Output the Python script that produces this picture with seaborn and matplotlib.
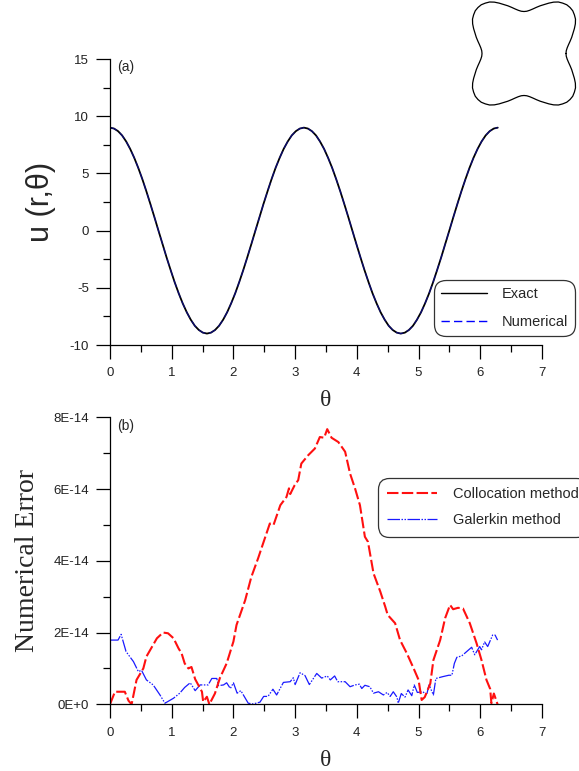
import numpy as np
import pandas as pd
import matplotlib
matplotlib.use("Agg")
import matplotlib.pyplot as plt
from matplotlib.lines import Line2D
from matplotlib.ticker import MultipleLocator, FixedLocator
import seaborn as sns

# ---------------- data ----------------
# panel (a): u(r, theta) along the boundary
theta_a = [0.000, 0.065, 0.131, 0.196, 0.262, 0.327, 0.393, 0.458, 0.524, 0.589,
           0.654, 0.720, 0.785, 0.851, 0.916, 0.982, 1.047, 1.113, 1.178, 1.244,
           1.309, 1.374, 1.440, 1.505, 1.571, 1.636, 1.702, 1.767, 1.833, 1.898,
           1.963, 2.029, 2.094, 2.160, 2.225, 2.291, 2.356, 2.422, 2.487, 2.553,
           2.618, 2.683, 2.749, 2.814, 2.880, 2.945, 3.011, 3.076, 3.142, 3.207,
           3.272, 3.338, 3.403, 3.469, 3.534, 3.600, 3.665, 3.731, 3.796, 3.862,
           3.927, 3.992, 4.058, 4.123, 4.189, 4.254, 4.320, 4.385, 4.451, 4.516,
           4.581, 4.647, 4.712, 4.778, 4.843, 4.909, 4.974, 5.040, 5.105, 5.171,
           5.236, 5.301, 5.367, 5.432, 5.498, 5.563, 5.629, 5.694, 5.760, 5.825,
           5.890, 5.956, 6.021, 6.087, 6.152, 6.218, 6.283]
u_exact = [9.00, 8.92, 8.69, 8.32, 7.79, 7.14, 6.36, 5.48, 4.50, 3.44,
           2.33, 1.17, 0.00, -1.17, -2.33, -3.44, -4.50, -5.48, -6.36, -7.14,
           -7.79, -8.32, -8.69, -8.92, -9.00, -8.92, -8.69, -8.32, -7.79, -7.14,
           -6.36, -5.48, -4.50, -3.44, -2.33, -1.17, 0.00, 1.17, 2.33, 3.44,
           4.50, 5.48, 6.36, 7.14, 7.79, 8.32, 8.69, 8.92, 9.00, 8.92,
           8.69, 8.32, 7.79, 7.14, 6.36, 5.48, 4.50, 3.44, 2.33, 1.17,
           0.00, -1.17, -2.33, -3.44, -4.50, -5.48, -6.36, -7.14, -7.79, -8.32,
           -8.69, -8.92, -9.00, -8.92, -8.69, -8.32, -7.79, -7.14, -6.36, -5.48,
           -4.50, -3.44, -2.33, -1.17, 0.00, 1.17, 2.33, 3.44, 4.50, 5.48,
           6.36, 7.14, 7.79, 8.32, 8.69, 8.92, 9.00]
u_numerical = list(u_exact)

# panel (b): numerical error (values in units of 1E-15)
theta_col = [0.00, 0.08, 0.24, 0.30, 0.35, 0.43, 0.54, 0.59, 0.68, 0.76,
             0.86, 0.94, 1.03, 1.11, 1.16, 1.21, 1.27, 1.32, 1.38, 1.49,
             1.51, 1.57, 1.61, 1.70, 1.78, 1.89, 2.00, 2.05, 2.19, 2.29,
             2.40, 2.48, 2.59, 2.65, 2.76, 2.86, 2.90, 2.92, 2.99, 3.05,
             3.10, 3.21, 3.32, 3.40, 3.47, 3.52, 3.59, 3.70, 3.81, 3.89,
             3.97, 4.05, 4.13, 4.18, 4.27, 4.38, 4.46, 4.50, 4.62, 4.70,
             4.81, 4.92, 5.00, 5.05, 5.10, 5.19, 5.24, 5.35, 5.43, 5.51,
             5.56, 5.64, 5.72, 5.83, 5.94, 6.02, 6.10, 6.16, 6.18, 6.22, 6.28]
err_col = [0.0, 3.5, 3.5, 1.0, 0.0, 6.8, 10.0, 13.3, 16.0, 18.4,
           20.0, 19.8, 18.4, 15.6, 14.2, 11.4, 10.0, 10.4, 7.0, 3.5,
           0.7, 2.1, 0.0, 3.0, 7.3, 11.4, 17.5, 22.1, 29.0, 35.5,
           40.7, 44.8, 50.4, 50.0, 55.5, 57.8, 60.2, 58.6, 61.0, 62.5,
           67.1, 69.4, 71.3, 74.5, 74.3, 76.7, 74.3, 73.1, 70.4, 64.3,
           60.2, 55.5, 46.7, 45.3, 36.5, 31.4, 27.2, 24.9, 22.6, 17.9,
           14.2, 10.0, 6.8, 1.2, 2.0, 5.8, 12.3, 17.9, 24.0, 27.7,
           26.5, 26.9, 26.7, 22.6, 17.0, 12.3, 6.8, 4.3, 0.3, 3.0, 0.0]
theta_gal = [0.00, 0.13, 0.18, 0.26, 0.38, 0.46, 0.51, 0.59, 0.70, 0.81,
             0.89, 1.03, 1.13, 1.21, 1.30, 1.38, 1.46, 1.59, 1.65, 1.73,
             1.76, 1.84, 1.89, 1.95, 2.00, 2.06, 2.12, 2.24, 2.32, 2.43,
             2.49, 2.56, 2.64, 2.70, 2.81, 2.92, 2.97, 3.00, 3.08, 3.16,
             3.23, 3.35, 3.43, 3.52, 3.57, 3.64, 3.69, 3.81, 3.89, 3.97,
             4.04, 4.08, 4.13, 4.21, 4.27, 4.35, 4.43, 4.49, 4.54, 4.59,
             4.65, 4.67, 4.72, 4.78, 4.83, 4.89, 4.93, 4.98, 5.07, 5.13,
             5.17, 5.24, 5.28, 5.39, 5.49, 5.54, 5.58, 5.62, 5.70, 5.78,
             5.86, 5.91, 5.99, 6.02, 6.07, 6.12, 6.20, 6.24, 6.28]
err_gal = [17.9, 17.9, 19.5, 14.7, 11.9, 9.1, 9.5, 6.8, 5.4, 2.6,
           0.3, 1.7, 3.1, 4.7, 6.0, 3.8, 5.4, 5.4, 7.2, 7.2,
           5.2, 5.4, 6.0, 4.4, 6.0, 3.1, 3.8, 0.3, 0.1, 0.6,
           2.2, 2.2, 4.2, 2.6, 6.1, 6.3, 7.4, 5.5, 8.8, 8.0,
           5.5, 8.6, 7.3, 7.9, 6.8, 7.9, 6.3, 6.3, 4.9, 5.4,
           5.6, 4.4, 5.3, 4.9, 3.1, 3.5, 2.6, 3.3, 2.2, 3.5,
           2.0, 0.3, 3.0, 2.0, 4.0, 2.4, 5.4, 3.3, 3.5, 2.6,
           5.4, 2.6, 7.2, 7.7, 8.1, 8.1, 11.4, 13.1, 13.5, 14.7,
           15.9, 13.8, 16.1, 15.2, 17.4, 16.1, 19.3, 19.3, 17.9]
err_scale = 1e-15

err_ticks = [0, 2e-14, 4e-14, 6e-14, 8e-14]
err_ticklabels = ["0E+0", "2E-14", "4E-14", "6E-14", "8E-14"]

# inset: boundary shape, relative radius every 3.75 degrees over one quadrant
shape_angle_deg = np.arange(0, 360.01, 3.75)
shape_r_quadrant = [0.80, 0.807, 0.83, 0.865, 0.91, 0.96, 1.01, 1.07, 1.13, 1.18,
                    1.21, 1.235, 1.24, 1.235, 1.21, 1.18, 1.13, 1.07, 1.01, 0.96,
                    0.91, 0.865, 0.83, 0.807]
shape_r = shape_r_quadrant * 4 + [shape_r_quadrant[0]]

# ---------------- styling ----------------
sns.set_style("ticks")
plt.rcParams["font.family"] = ["Liberation Sans", "DejaVu Sans"]
plt.rcParams["axes.linewidth"] = 0.9
plt.rcParams["axes.unicode_minus"] = False
SERIF = ["Liberation Serif", "DejaVu Serif"]

fig = plt.figure(figsize=(5.79, 7.71), dpi=100)
W, H = 579.0, 771.0


def style_axis(ax):
    for s in ("top", "right"):
        ax.spines[s].set_visible(False)
    for s in ("left", "bottom"):
        ax.spines[s].set_color("black")
        ax.spines[s].set_linewidth(0.9)
    ax.tick_params(which="major", direction="out", length=10, width=0.9,
                   colors="black", labelsize=9.5, labelcolor="#222222")
    ax.tick_params(which="minor", direction="out", length=5, width=0.9, colors="black")
    ax.tick_params(axis="x", which="major", pad=6)
    ax.tick_params(axis="y", which="major", pad=5)
    ax.set_xlim(0, 7)
    ax.xaxis.set_major_locator(MultipleLocator(1))
    ax.xaxis.set_minor_locator(MultipleLocator(0.5))


# ---------------- panel (a) ----------------
ax1 = fig.add_axes([110 / W, 1 - 345 / H, 432 / W, 286 / H])
df_a = pd.DataFrame({"theta": theta_a, "exact": u_exact, "numerical": u_numerical})
sns.lineplot(data=df_a, x="theta", y="exact", ax=ax1, color="black", lw=1.3,
             sort=False, estimator=None)
sns.lineplot(data=df_a, x="theta", y="numerical", ax=ax1, color="#1010c0", lw=0.9,
             alpha=0.6, sort=False, estimator=None)
ax1.lines[-1].set_linestyle((0, (6, 3)))
style_axis(ax1)
ax1.set_ylim(-10, 15)
ax1.yaxis.set_major_locator(MultipleLocator(5))
ax1.yaxis.set_minor_locator(MultipleLocator(2.5))
ax1.set_xlabel("θ", fontsize=17, family=SERIF, labelpad=8)
ax1.set_ylabel("u (r,θ)", fontsize=22, labelpad=10)
ax1.text(0.017, 0.995, "(a)", transform=ax1.transAxes, fontsize=10, va="top", ha="left")

h_a = [Line2D([], [], color="black", lw=1.0),
       Line2D([], [], color="blue", lw=1.0, ls=(0, (6, 3)))]
leg1 = ax1.legend(h_a, ["Exact", "Numerical"], loc="upper left",
                  bbox_to_anchor=(437 / W, 1 - 283 / H), bbox_transform=fig.transFigure,
                  fontsize=10.5, handlelength=3.2, handletextpad=1.0, labelspacing=1.0,
                  borderpad=0.25, borderaxespad=0, fancybox=True, frameon=True)
leg1.get_frame().set_edgecolor("black")
leg1.get_frame().set_linewidth(0.9)
leg1.get_frame().set_boxstyle("round", pad=0.2, rounding_size=0.8)

# ---------------- panel (b) ----------------
ax2 = fig.add_axes([110 / W, 1 - 704.3 / H, 432 / W, 287 / H])
df_c = pd.DataFrame({"theta": theta_col, "err": np.array(err_col) * err_scale})
df_g = pd.DataFrame({"theta": theta_gal, "err": np.array(err_gal) * err_scale})
sns.lineplot(data=df_g, x="theta", y="err", ax=ax2, color="#1a1aff", lw=0.9,
             sort=False, estimator=None)
ax2.lines[-1].set_linestyle((0, (10, 1.2, 1.2, 1.2, 1.2, 1.2)))
sns.lineplot(data=df_c, x="theta", y="err", ax=ax2, color="#ff1010", lw=1.5,
             sort=False, estimator=None)
ax2.lines[-1].set_linestyle((0, (5.5, 1.6)))
style_axis(ax2)
ax2.set_ylim(0, 8e-14)
ax2.yaxis.set_major_locator(FixedLocator(err_ticks))
ax2.set_yticklabels(err_ticklabels)
ax2.yaxis.set_minor_locator(MultipleLocator(1e-14))
ax2.set_xlabel("θ", fontsize=17, family=SERIF, labelpad=8)
ax2.set_ylabel("Numerical Error", fontsize=20, family=SERIF, labelpad=10)
ax2.text(0.017, 0.995, "(b)", transform=ax2.transAxes, fontsize=10, va="top", ha="left")

h_b = [Line2D([], [], color="#ff1010", lw=1.5, ls=(0, (5.5, 1.6))),
       Line2D([], [], color="#1a1aff", lw=0.9, ls=(0, (10, 1.2, 1.2, 1.2, 1.2, 1.2)))]
leg2 = ax2.legend(h_b, ["Collocation method", "Galerkin method"], loc="upper left",
                  bbox_to_anchor=(382 / W, 1 - 482 / H), bbox_transform=fig.transFigure,
                  fontsize=10.5, handlelength=3.4, handletextpad=1.1, labelspacing=0.85,
                  borderpad=0.35, borderaxespad=0, fancybox=True, frameon=True)
leg2.get_frame().set_edgecolor("black")
leg2.get_frame().set_linewidth(0.9)
leg2.get_frame().set_boxstyle("round", pad=0.3, rounding_size=0.8)

# ---------------- inset shape ----------------
axi = fig.add_axes([466 / W, 1 - 111.5 / H, 116 / W, 116 / H])
ang = np.deg2rad(shape_angle_deg)
r = np.array(shape_r)
df_s = pd.DataFrame({"x": r * np.cos(ang), "y": r * np.sin(ang)})
sns.lineplot(data=df_s, x="x", y="y", ax=axi, color="black", lw=0.9,
             sort=False, estimator=None)
axi.set_xlim(-1.105, 1.105)
axi.set_ylim(-1.105, 1.105)
axi.axis("off")

fig.savefig("out.png", dpi=100)
